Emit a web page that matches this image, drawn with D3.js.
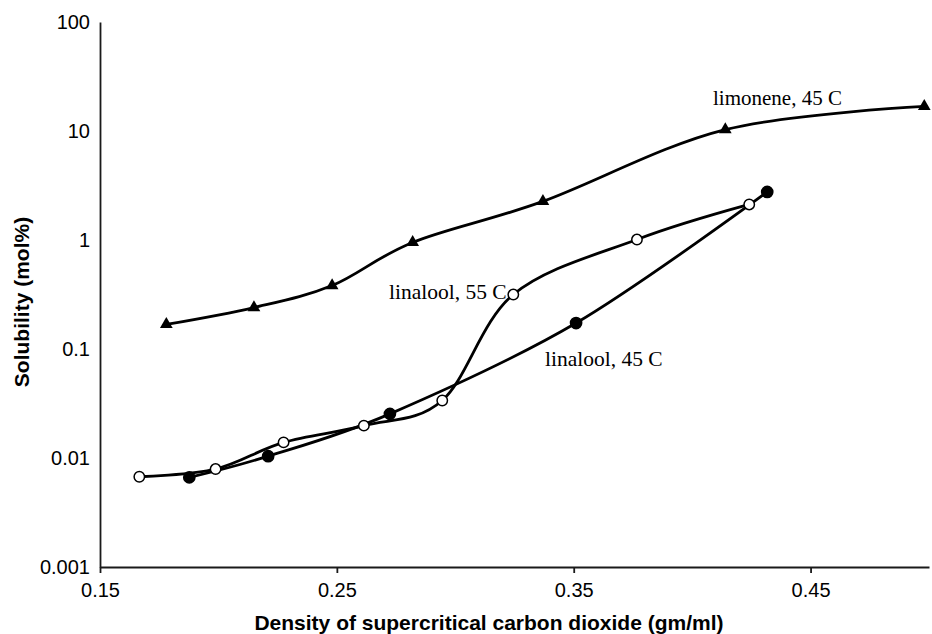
<!DOCTYPE html>
<html>
<head>
<meta charset="utf-8">
<script src="https://cdn.jsdelivr.net/npm/d3@7"></script>
<style>
  body { margin: 0; background: #fff; }
</style>
</head>
<body>
<div id="chart"></div>
<script>
// data (density g/ml, solubility mol%)
const limoneneX = [0.178, 0.215, 0.248, 0.282, 0.337, 0.414, 0.498];
const limoneneY = [0.168, 0.240, 0.382, 0.95, 2.26, 10.3, 16.8];

const linalool55X = [0.1666, 0.1988, 0.2275, 0.2614, 0.2945, 0.3245, 0.3767, 0.4241];
const linalool55Y = [0.00673, 0.00792, 0.0139, 0.0198, 0.0337, 0.316, 1.01, 2.12];

const linalool45X = [0.1877, 0.221, 0.2724, 0.351, 0.4317];
const linalool45Y = [0.00664, 0.0104, 0.0254, 0.173, 2.76];

const xTicks = [0.15, 0.25, 0.35, 0.45];
const yTicks = [0.001, 0.01, 0.1, 1, 10, 100];
const yTickLabels = ["0.001", "0.01", "0.1", "1", "10", "100"];

function chart() {
    const W = 932, H = 634;
    const margin = {l: 100, r: 3, t: 22, b: 67};

    const svg = d3.select("#chart")
        .append("svg")
        .attr("width", W)
        .attr("height", H);

    svg.append("rect")
        .attr("width", W)
        .attr("height", H)
        .attr("fill", "#fff");

    const x = d3.scaleLinear().domain([0.15, 0.5]).range([margin.l, W - margin.r]);
    const y = d3.scaleLog().domain([0.001, 100]).range([H - margin.b, margin.t]);

    // axes
    const axisX = d3.axisBottom(x)
        .tickValues(xTicks)
        .tickFormat(d3.format(".2f"))
        .tickSize(6)
        .tickSizeOuter(0)
        .tickPadding(10);
    const axisY = d3.axisLeft(y)
        .tickValues(yTicks)
        .tickFormat((d, i) => yTickLabels[i])
        .tickSize(0)
        .tickPadding(10);

    const gx = svg.append("g")
        .attr("transform", `translate(0,${H - margin.b})`)
        .call(axisX);
    const gy = svg.append("g")
        .attr("transform", `translate(${margin.l},0)`)
        .call(axisY);

    [gx, gy].forEach(g => {
        g.selectAll("path, line").attr("stroke", "#1a1a1a").attr("stroke-width", 1.8);
        g.selectAll("text")
            .attr("fill", "#000")
            .style("font-family", "'Liberation Sans', Arial, sans-serif")
            .style("font-size", "20px");
    });

    // axis titles
    svg.append("text")
        .attr("x", 489)
        .attr("y", 630)
        .attr("text-anchor", "middle")
        .style("font-family", "'Liberation Sans', Arial, sans-serif")
        .style("font-size", "21px")
        .style("font-weight", "bold")
        .text("Density of supercritical carbon dioxide (gm/ml)");

    svg.append("text")
        .attr("transform", "translate(28.5,302) rotate(-90)")
        .attr("text-anchor", "middle")
        .style("font-family", "'Liberation Sans', Arial, sans-serif")
        .style("font-size", "21px")
        .style("font-weight", "bold")
        .text("Solubility (mol%)");

    // smoothed lines, like a spreadsheet "smooth line"
    const line = d3.line()
        .x(d => x(d[0]))
        .y(d => y(d[1]))
        .curve(d3.curveCardinal.tension(0));

    const series = [
        {xs: limoneneX, ys: limoneneY, marker: "tri"},
        {xs: linalool45X, ys: linalool45Y, marker: "dot"},
        {xs: linalool55X, ys: linalool55Y, marker: "ring"}
    ];

    const plot = svg.append("g");

    series.forEach(s => {
        const pts = s.xs.map((v, i) => [v, s.ys[i]]);
        plot.append("path")
            .datum(pts)
            .attr("fill", "none")
            .attr("stroke", "#000")
            .attr("stroke-width", 2.8)
            .attr("stroke-linejoin", "round")
            .attr("d", line);
    });

    series.forEach(s => {
        const pts = s.xs.map((v, i) => [v, s.ys[i]]);
        const g = plot.append("g");
        if (s.marker === "tri") {
            g.selectAll("path")
                .data(pts)
                .enter()
                .append("path")
                .attr("d", d3.symbol().type(d3.symbolTriangle).size(70))
                .attr("transform", d => `translate(${x(d[0])},${y(d[1])})`)
                .attr("fill", "#000");
        } else {
            g.selectAll("circle")
                .data(pts)
                .enter()
                .append("circle")
                .attr("cx", d => x(d[0]))
                .attr("cy", d => y(d[1]))
                .attr("r", s.marker === "dot" ? 5.6 : 5.2)
                .attr("fill", s.marker === "dot" ? "#000" : "#fff")
                .attr("stroke", "#000")
                .attr("stroke-width", 1.5);
        }
    });

    // series labels
    const labels = [
        {text: "limonene, 45 C", px: 713, py: 105, fs: 21},
        {text: "linalool, 55 C", px: 389, py: 299, fs: 21.5},
        {text: "linalool, 45 C", px: 545, py: 366, fs: 21.5}
    ];
    svg.selectAll(".lab")
        .data(labels)
        .enter()
        .append("text")
        .attr("class", "lab")
        .attr("x", d => d.px)
        .attr("y", d => d.py)
        .style("font-family", "'Liberation Serif', 'Times New Roman', serif")
        .style("font-size", d => d.fs + "px")
        .text(d => d.text);
}

chart();
</script>
</body>
</html>
